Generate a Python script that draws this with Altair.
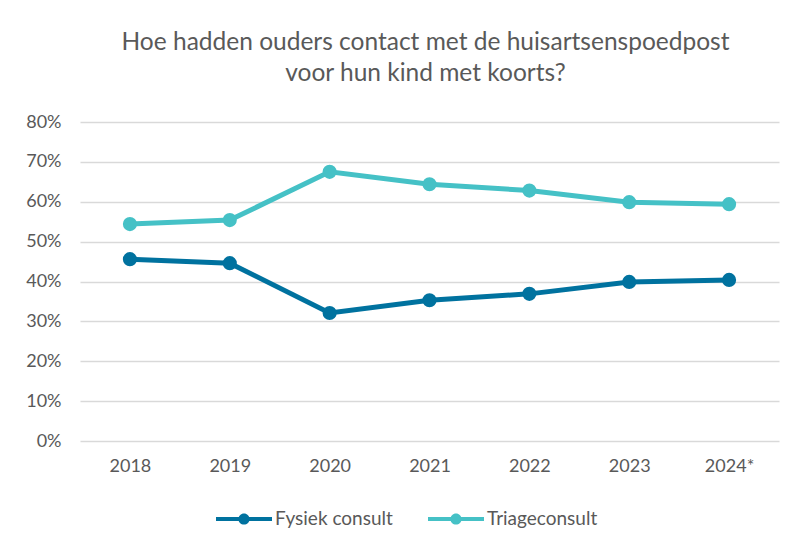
import altair as alt
import pandas as pd

years = ["2018", "2019", "2020", "2021", "2022", "2023", "2024*"]
fysiek = [0.456, 0.446, 0.321, 0.353, 0.369, 0.399, 0.404]
triage = [0.544, 0.554, 0.675, 0.644, 0.628, 0.599, 0.594]
series = ["Fysiek consult", "Triageconsult"]
colors = ["#00729F", "#45C1C6"]

df = pd.DataFrame(
    [{"jaar": y, "reeks": series[0], "waarde": v} for y, v in zip(years, fysiek)]
    + [{"jaar": y, "reeks": series[1], "waarde": v} for y, v in zip(years, triage)]
)

FONT = "Lato"
GREY = "#595959"
legend_path = ("M-1,-0.075L1,-0.075L1,0.075L-1,0.075Z "
               "M0.2,0A0.2,0.2 0 1,1 -0.2,0A0.2,0.2 0 1,1 0.2,0Z")

chart = (
    alt.Chart(df)
    .mark_line(strokeWidth=5, point=alt.OverlayMarkDef(filled=True, size=200, opacity=1))
    .encode(
        x=alt.X("jaar:N", sort=years, title=None,
                scale=alt.Scale(type="point", padding=0.5),
                axis=alt.Axis(labelAngle=0, ticks=False, domain=False, grid=False,
                              labelPadding=16, labelFontSize=18, labelColor=GREY, labelFont=FONT)),
        y=alt.Y("waarde:Q", title=None,
                scale=alt.Scale(domain=[0, 0.8], nice=False),
                axis=alt.Axis(format=".0%", values=[0, 0.1, 0.2, 0.3, 0.4, 0.5, 0.6, 0.7, 0.8],
                              ticks=False, domain=False, gridColor="#D9D9D9", gridWidth=1.3,
                              labelPadding=19, labelFontSize=18, labelColor=GREY, labelFont=FONT)),
        color=alt.Color("reeks:N", sort=series,
                        scale=alt.Scale(domain=series, range=colors),
                        legend=alt.Legend(title=None, orient="none", direction="horizontal",
                                          legendX=136, legendY=369,
                                          symbolType=legend_path, symbolSize=3136,
                                          symbolStrokeWidth=0, symbolOpacity=1,
                                          labelFontSize=19, labelColor=GREY, labelFont=FONT,
                                          labelOffset=3, columnPadding=35)),
    )
    .properties(
        width=699, height=319,
        title=alt.TitleParams(
            text=["Hoe hadden ouders contact met de huisartsenspoedpost",
                  "voor hun kind met koorts?"],
            anchor="middle", fontSize=24.5, font=FONT, fontWeight="normal",
            color=GREY, lineHeight=31, offset=27, dx=-4),
        autosize=alt.AutoSizeParams(type="none"),
        padding={"left": 72, "top": 114, "right": 12, "bottom": 110},
    )
    .configure_view(stroke=None)
)

chart.save("out.html", embed_options={"renderer": "svg", "actions": False})
